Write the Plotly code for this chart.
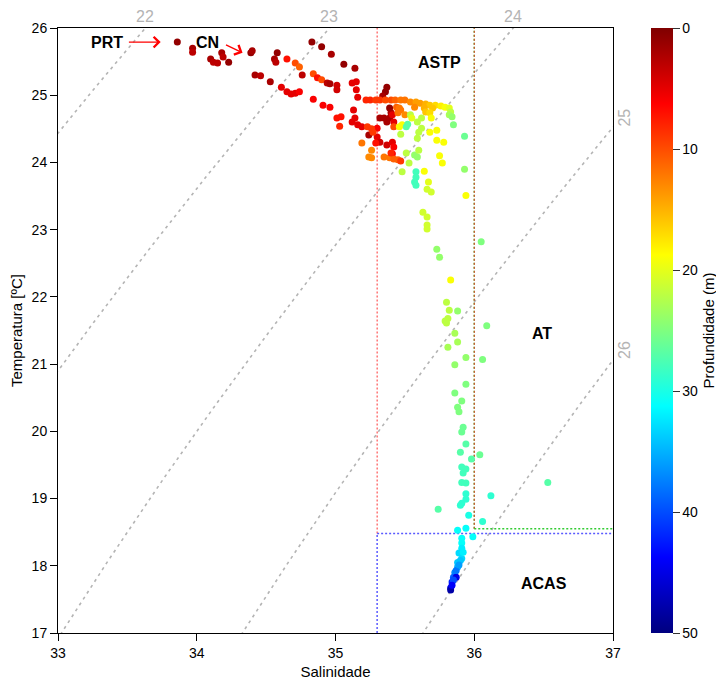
import numpy as np
import plotly.graph_objects as go

# ---------------- data ----------------
salinity = [
    33.86, 33.97, 33.97, 34.10, 34.12, 34.15, 34.18, 34.19, 34.23, 34.39, 34.40, 34.42, 34.46, 34.53,
    34.58, 34.56, 34.57, 34.65, 34.71, 34.74, 34.61, 34.65, 34.68, 34.71, 34.74, 34.76, 34.83, 34.90,
    34.97, 34.84, 34.87, 34.90, 34.94, 34.96, 35.01, 35.01, 35.06, 35.14, 35.12, 35.15, 35.15, 35.16,
    34.84, 34.91, 34.96, 35.01, 35.04, 35.03, 35.12, 35.14, 35.16, 35.19, 35.13,
    # near the 35.3 line
    35.37, 35.36, 35.34, 35.39, 35.40, 35.39, 35.37, 35.41, 35.42, 35.32, 35.35, 35.30, 35.24, 35.30,
    35.32, 35.37, 35.41, 35.42, 35.41, 35.29, 35.23, 35.26, 35.27, 35.19, 35.26, 35.24, 35.26, 35.35,
    35.39, 35.42, 35.45, 35.47, 35.40, 35.42,
    # row near 24.9
    35.22, 35.25, 35.29, 35.32, 35.36, 35.40, 35.43, 35.47, 35.50, 35.54, 35.58, 35.61, 35.65, 35.68,
    35.72, 35.76, 35.79, 35.82, 35.83, 35.82, 35.84, 35.85, 35.93, 35.57, 35.64, 35.70,
    # orange / yellow cluster
    35.44, 35.46, 35.45, 35.47, 35.50, 35.46, 35.48, 35.51, 35.52, 35.54, 35.55, 35.59, 35.62, 35.65,
    35.68, 35.69, 35.62, 35.60, 35.59, 35.68, 35.73, 35.73, 35.47, 35.75, 35.77,
    # descending branch
    35.51, 35.57, 35.59, 35.60, 35.53, 35.48, 35.58, 35.58, 35.57, 35.58, 35.64, 35.67, 35.66, 35.69,
    35.78, 35.94, 35.93, 35.63, 35.66, 35.66, 35.66, 36.05, 35.73, 35.75, 35.83, 35.80, 35.82, 35.88,
    35.81, 35.79, 35.80, 36.09, 35.86, 35.88, 35.81, 35.94, 36.06, 35.86, 35.94, 35.86, 35.91, 35.88,
    35.89, 35.92, 35.91, 35.94, 35.90, 35.98, 36.04, 35.91, 35.94, 35.92, 35.91, 35.94, 36.53, 35.94,
    35.94, 35.91, 35.90, 36.12, 35.74, 35.96, 36.06, 35.88, 35.94, 35.99,
    # deep column
    35.91, 35.91, 35.91, 35.89, 35.91, 35.88, 35.88, 35.86, 35.85, 35.84, 35.83, 35.83, 35.87, 35.87,
    35.90, 35.85, 35.84, 35.89, 35.92,
]
temperature = [
    25.79, 25.70, 25.64, 25.54, 25.49, 25.48, 25.63, 25.57, 25.49, 25.63, 25.66, 25.30, 25.29, 25.20,
    25.63, 25.54, 25.49, 25.54, 25.48, 25.42, 25.12, 25.05, 25.02, 25.03, 25.05, 25.30, 25.79, 25.72,
    25.61, 25.32, 25.26, 25.23, 25.18, 25.17, 25.15, 25.08, 25.46, 25.40, 25.18, 25.20, 25.08, 24.97,
    24.94, 24.85, 24.82, 24.66, 24.68, 24.54, 24.60, 24.66, 24.56, 24.53, 24.78,
    25.12, 25.05, 24.99, 24.81, 24.74, 24.66, 24.60, 24.71, 24.60, 24.66, 24.66, 24.51, 24.41, 24.38,
    24.30, 24.26, 24.30, 24.23, 24.13, 24.29, 24.53, 24.50, 24.45, 24.29, 24.18, 24.08, 24.07, 24.08,
    24.07, 24.05, 24.04, 24.02, 24.14, 24.53,
    24.93, 24.93, 24.93, 24.93, 24.93, 24.93, 24.93, 24.93, 24.93, 24.90, 24.90, 24.88, 24.87, 24.85,
    24.85, 24.84, 24.82, 24.81, 24.75, 24.71, 24.68, 24.56, 24.39, 24.82, 24.81, 24.81,
    24.82, 24.81, 24.74, 24.78, 24.71, 24.53, 24.56, 24.53, 24.57, 24.71, 24.66, 24.60, 24.66, 24.75,
    24.74, 24.66, 24.51, 24.45, 24.36, 24.45, 24.48, 24.33, 24.42, 24.10, 23.99,
    24.14, 24.11, 24.08, 24.18, 23.99, 23.86, 23.86, 23.78, 23.71, 23.66, 23.87, 23.71, 23.60, 23.56,
    24.30, 23.51, 23.90, 23.26, 23.19, 23.07, 23.01, 22.82, 22.71, 22.59, 22.25, 21.92, 21.80, 21.79,
    21.68, 21.64, 21.61, 21.57, 21.46, 21.33, 21.25, 21.10, 21.07, 20.99, 20.70, 20.57, 20.45, 20.36,
    20.29, 20.06, 19.99, 19.81, 19.69, 19.59, 19.65, 19.47, 19.44, 19.38, 19.24, 19.23, 19.24, 19.07,
    18.99, 18.93, 18.90, 19.04, 18.84, 18.75, 18.66, 18.53, 18.56, 18.43,
    18.41, 18.34, 18.26, 18.19, 18.11, 18.05, 17.98, 17.90, 17.83, 17.76, 17.67, 17.64, 17.83, 17.93,
    18.08, 17.79, 17.71, 18.01, 18.20,
]
depth = [
    1, 2, 3, 2, 3, 3, 2, 3, 1, 1, 2, 2, 3, 2,
    1, 2, 3, 7, 10, 11, 5, 5, 5, 5, 6, 3, 1, 1,
    2, 10, 7, 10, 3, 2, 4, 4, 1, 2, 5, 5, 5, 5,
    6, 6, 6, 7, 7, 8, 5, 5, 5, 5, 5,
    1, 1, 2, 1, 2, 2, 2, 5, 5, 2, 2, 6, 2, 5,
    4, 4, 5, 6, 6, 7, 9, 9, 9, 12, 13, 13, 13, 12,
    12, 11, 11, 9, 8, 10,
    8, 8, 9, 9, 10, 10, 11, 12, 12, 13, 14, 14, 15, 16,
    17, 18, 19, 20, 22, 23, 24, 25, 26, 13, 15, 16,
    11, 12, 12, 12, 13, 19, 19, 27, 27, 22, 20, 22, 22, 16,
    17, 19, 22, 22, 22, 19, 19, 19, 22, 19, 19,
    22, 24, 24, 22, 22, 22, 28, 28, 28, 28, 19, 20, 21, 21,
    19, 19, 24, 21, 21, 21, 21, 25, 24, 24, 19, 22, 22, 24,
    22, 22, 22, 25, 23, 23, 23, 24, 25, 24, 25, 25, 25, 25,
    25, 26, 26, 27, 27, 27, 26, 28, 28, 28, 28, 28, 27, 29,
    29, 29, 29, 29, 27, 30, 29, 31, 31, 31,
    31, 31, 32, 33, 33, 34, 35, 37, 39, 42, 46, 48, 45, 38,
    34, 40, 44, 36, 32,
]

x_ticks = [33, 34, 35, 36, 37]
y_ticks = [17, 18, 19, 20, 21, 22, 23, 24, 25, 26]
depth_ticks = [0, 10, 20, 30, 40, 50]
sigma_levels = [22, 23, 24, 25, 26]

# water-mass limits
astp_s = [35.3, 36.0]
at_limit_t = 18.55
acas_limit_t = 18.48

# ---------------- helpers ----------------
def sigma_t(S, T):
    rw = (999.842594 + 6.793952e-2 * T - 9.095290e-3 * T**2 + 1.001685e-4 * T**3
          - 1.120083e-6 * T**4 + 6.536332e-9 * T**5)
    A = 8.24493e-1 - 4.0899e-3 * T + 7.6438e-5 * T**2 - 8.2467e-7 * T**3 + 5.3875e-9 * T**4
    B = -5.72466e-3 + 1.0227e-4 * T - 1.6546e-6 * T**2
    C = 4.8314e-4
    return rw + A * S + B * S**1.5 + C * S**2 - 1000.0


def solve_S(T, level):
    lo = np.full_like(T, 28.0); hi = np.full_like(T, 42.0)
    for _ in range(60):
        mid = 0.5 * (lo + hi)
        f = sigma_t(mid, T) - level
        hi = np.where(f > 0, mid, hi)
        lo = np.where(f > 0, lo, mid)
    return 0.5 * (lo + hi)


def solve_T(S, level):
    lo, hi = 5.0, 35.0
    for _ in range(60):
        mid = 0.5 * (lo + hi)
        if sigma_t(S, mid) > level:
            lo = mid
        else:
            hi = mid
    return 0.5 * (lo + hi)


FONT = "Arial, Liberation Sans, sans-serif"
GRAY = "#b4b4b4"

fig = go.Figure()

# isopycnals
Tgrid = np.linspace(16.0, 27.0, 400)
annotations = []
for lev in sigma_levels:
    Sline = solve_S(Tgrid, lev)
    fig.add_trace(go.Scatter(x=Sline, y=Tgrid, mode="lines",
                             line=dict(color=GRAY, width=1.6, dash="3px,4px"),
                             hoverinfo="skip", showlegend=False))
    s_top = float(solve_S(np.array([26.0]), lev)[0])
    if 33 <= s_top <= 37:
        annotations.append(dict(x=s_top, y=26, xref="x", yref="y", text=str(lev),
                                showarrow=False, yanchor="bottom", yshift=1,
                                font=dict(family=FONT, size=16, color=GRAY)))
    else:
        t_right = solve_T(37.0, lev)
        annotations.append(dict(x=37, y=t_right, xref="x", yref="y", text=str(lev),
                                showarrow=False, xanchor="left", xshift=1, yshift=9,
                                textangle=-90,
                                font=dict(family=FONT, size=16, color=GRAY)))

# water-mass boxes
def dotted(xs, ys, color, width=1.0):
    fig.add_trace(go.Scatter(x=xs, y=ys, mode="lines",
                             line=dict(color=color, width=width, dash="2px,2px"),
                             hoverinfo="skip", showlegend=False))

dotted([astp_s[0], astp_s[0]], [acas_limit_t, 26], "#ff3030")
dotted([astp_s[1], astp_s[1]], [at_limit_t, 26], "#33cc33", 1.5)
dotted([astp_s[1], astp_s[1]], [at_limit_t, 26], "#ff3030")
dotted([astp_s[1], 37], [at_limit_t, at_limit_t], "#33cc33", 1.5)
dotted([astp_s[0], 37], [acas_limit_t, acas_limit_t], "#5a5aff", 1.5)
dotted([astp_s[0], astp_s[0]], [17, acas_limit_t], "#5a5aff", 1.5)

jet = [[0.0, "#00007F"], [0.125, "#0000FF"], [0.25, "#007FFF"], [0.375, "#00FFFF"],
       [0.5, "#7FFF7F"], [0.625, "#FFFF00"], [0.75, "#FF7F00"], [0.875, "#FF0000"],
       [1.0, "#7F0000"]]

fig.add_trace(go.Scatter(
    x=salinity, y=temperature, mode="markers",
    marker=dict(size=7, color=[-d for d in depth], colorscale=jet, cmin=-50, cmax=0,
                line=dict(width=0),
                colorbar=dict(
                    x=1.068, xanchor="left", y=0.5, yanchor="middle", len=1.0, lenmode="fraction",
                    thickness=22, outlinewidth=0, xpad=0, ypad=0,
                    tickvals=[-d for d in depth_ticks], ticktext=[str(d) for d in depth_ticks],
                    ticks="outside", ticklen=7, tickcolor="#333",
                    tickfont=dict(family=FONT, size=14, color="black"),
                    title=dict(text="Profundidade (m)", side="right",
                               font=dict(family=FONT, size=15, color="black")))),
    showlegend=False, hoverinfo="skip"))

# text labels
for txt, sx, ty in [("PRT", 33.35, 25.79), ("CN", 34.08, 25.78), ("ASTP", 35.75, 25.48),
                    ("AT", 36.49, 21.46), ("ACAS", 36.50, 17.74)]:
    annotations.append(dict(x=sx, y=ty, xref="x", yref="y", text=f"<b>{txt}</b>", showarrow=False,
                            font=dict(family=FONT, size=16, color="black")))

annotations.append(dict(x=33.74, y=25.79, ax=33.50, ay=25.79, xref="x", yref="y", axref="x", ayref="y",
                        text="", showarrow=True, arrowhead=4, arrowsize=1.6, arrowwidth=1.3,
                        arrowcolor="red"))
annotations.append(dict(x=34.33, y=25.63, ax=34.20, ay=25.76, xref="x", yref="y", axref="x", ayref="y",
                        text="", showarrow=True, arrowhead=4, arrowsize=1.6, arrowwidth=1.3,
                        arrowcolor="red"))

# page body has an 8px margin, so the figure is 8px smaller than the window
fig.update_layout(
    width=716, height=675,
    margin=dict(l=50, r=111, t=20, b=50, autoexpand=False),
    plot_bgcolor="white", paper_bgcolor="white",
    font=dict(family=FONT, size=14, color="black"),
    annotations=annotations,
    xaxis=dict(range=[33, 37], tickvals=x_ticks, ticks="outside", ticklen=7, tickcolor="black",
               showline=True, linecolor="black", linewidth=1, mirror=True, showgrid=False,
               zeroline=False, tickfont=dict(size=14),
               title=dict(text="Salinidade", font=dict(size=15), standoff=6)),
    yaxis=dict(range=[17, 26], tickvals=y_ticks, ticks="outside", ticklen=7, tickcolor="black",
               showline=True, linecolor="black", linewidth=1, mirror=True, showgrid=False,
               zeroline=False, tickfont=dict(size=14),
               title=dict(text="Temperatura [ºC]", font=dict(size=15), standoff=8)),
)

fig.write_html("out.html")
